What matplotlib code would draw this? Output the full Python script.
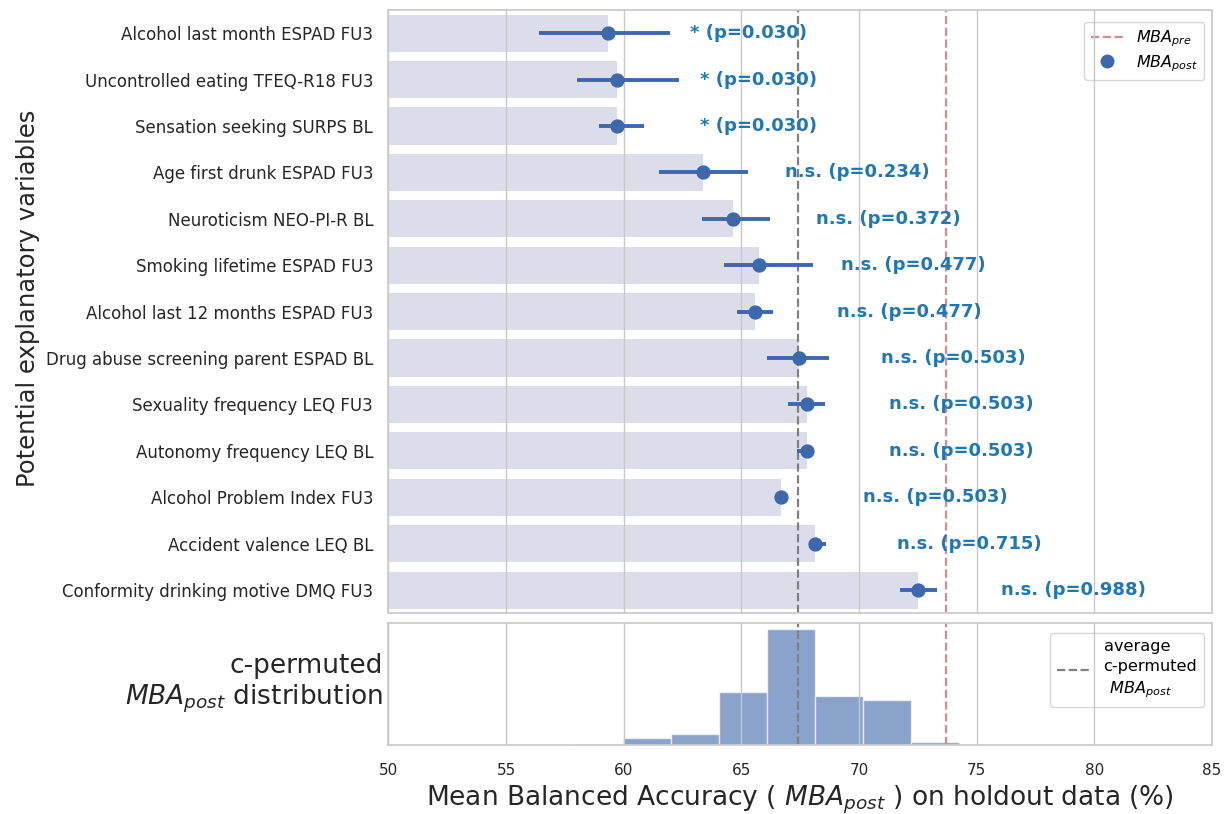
import matplotlib
matplotlib.use("Agg")
import matplotlib.pyplot as plt
from matplotlib.lines import Line2D
import numpy as np

# ---------------- data ----------------
variables = [
    "Alcohol last month ESPAD FU3",
    "Uncontrolled eating TFEQ-R18 FU3",
    "Sensation seeking SURPS BL",
    "Age first drunk ESPAD FU3",
    "Neuroticism NEO-PI-R BL",
    "Smoking lifetime ESPAD FU3",
    "Alcohol last 12 months ESPAD FU3",
    "Drug abuse screening parent ESPAD BL",
    "Sexuality frequency LEQ FU3",
    "Autonomy frequency LEQ BL",
    "Alcohol Problem Index FU3",
    "Accident valence LEQ BL",
    "Conformity drinking motive DMQ FU3",
]
mba_post = [59.32, 59.72, 59.72, 63.36, 64.66, 65.75, 65.58, 67.43, 67.78, 67.78, 66.68, 68.13, 72.52]
ci_low = [56.4, 58.0, 58.94, 61.5, 63.34, 64.26, 64.8, 66.08, 67.0, 67.36, 66.68, 68.0, 71.75]
ci_high = [61.95, 62.35, 60.87, 65.3, 66.2, 68.03, 66.36, 68.73, 68.56, 67.88, 66.68, 68.58, 73.33]
p_labels = ["* (p=0.030)", "* (p=0.030)", "* (p=0.030)", "n.s. (p=0.234)",
            "n.s. (p=0.372)", "n.s. (p=0.477)", "n.s. (p=0.477)", "n.s. (p=0.503)",
            "n.s. (p=0.503)", "n.s. (p=0.503)", "n.s. (p=0.503)", "n.s. (p=0.715)",
            "n.s. (p=0.988)"]
mba_pre = 73.71
perm_mean = 67.41
hist_edges = [57.93, 59.97, 62.0, 64.04, 66.07, 68.11, 70.15, 72.19, 74.23]
hist_counts = [1, 10, 16, 78, 171, 72, 66, 4]
xticks = [50, 55, 60, 65, 70, 75, 80, 85]

# ---------------- style ----------------
plt.rcParams['font.family'] = ['DejaVu Sans']
plt.rcParams['mathtext.fontset'] = 'dejavusans'
spine_col = '#cccccc'
grid_col = '#c8c8c8'
text_dark = '#262626'
point_col = '#3d68ad'
bar_col = '#dbdeea'
red_col = '#d98a8c'
gray_col = '#808080'

fig = plt.figure(figsize=(12.25, 8.14), dpi=100)
ax = fig.add_axes([0.3171, 0.2466, 0.6723, 0.7411])
axh = fig.add_axes([0.3171, 0.0848, 0.6723, 0.1495], sharex=ax)

y = np.arange(len(variables))
ax.barh(y, mba_post, height=0.8, color=bar_col, zorder=1)
err = [np.array(mba_post) - np.array(ci_low), np.array(ci_high) - np.array(mba_post)]
ax.errorbar(mba_post, y, xerr=err, fmt='none', ecolor=point_col, elinewidth=2.8, zorder=3)
ax.plot(mba_post, y, 'o', color=point_col, markersize=9.3, zorder=4, linestyle='none')
for yi, v, lab in zip(y, mba_post, p_labels):
    ax.text(v + 3.5, yi, lab, color='#1f77b4', fontsize=13, fontweight='bold',
            ha='left', va='center', zorder=5)

ax.axvline(perm_mean, color=gray_col, ls='--', lw=1.6, zorder=2)
ax.axvline(mba_pre, color=red_col, ls='--', lw=1.6, zorder=2)

ax.set_ylim(len(variables) - 0.5, -0.5)
ax.set_yticks(y)
ax.set_yticklabels(variables, fontsize=12, color=text_dark)
ax.set_xlim(50, 85)
ax.set_xticks(xticks)
ax.tick_params(axis='x', labelbottom=False, length=0)
ax.tick_params(axis='y', length=0, pad=11)
ax.set_ylabel("Potential explanatory variables", fontsize=17.5, color=text_dark)
ax.yaxis.set_label_coords(-0.423, 0.522)

handles = [Line2D([0], [0], color=red_col, ls='--', lw=1.6),
           Line2D([0], [0], marker='o', color=point_col, ls='none', markersize=9)]
leg = ax.legend(handles, ["$MBA_{pre}$", "$MBA_{post}$"], loc='upper right',
                fontsize=11.5, frameon=True, borderpad=0.4, labelspacing=0.25,
                handlelength=2.0, handletextpad=0.8, borderaxespad=0,
                bbox_to_anchor=(0.9905, 0.980))
leg.get_frame().set_edgecolor('#cccccc')
leg.get_frame().set_linewidth(1.0)
leg.set_zorder(1.2)

# histogram
axh.hist(hist_edges[:-1], bins=hist_edges, weights=hist_counts, color='#4c72b0',
         alpha=0.65, edgecolor='white', linewidth=1.0, zorder=1)
axh.axvline(perm_mean, color=gray_col, ls='--', lw=1.6, zorder=2,
            label="average\nc-permuted\n $MBA_{post}$")
axh.axvline(mba_pre, color=red_col, ls='--', lw=1.6, zorder=2)
axh.set_yticks([])
axh.set_xticks(xticks)
axh.set_xticklabels([str(t) for t in xticks], fontsize=11, color=text_dark)
axh.tick_params(axis='x', length=0, pad=13)
axh.set_xlabel("Mean Balanced Accuracy ( $MBA_{post}$ ) on holdout data (%)",
               fontsize=19, color=text_dark, labelpad=4)
axh.set_ylabel("c-permuted\n$MBA_{post}$ distribution", fontsize=19,
               color=text_dark, rotation=0, ha='right', va='center')
axh.yaxis.set_label_coords(-0.007, 0.5)
leg2 = axh.legend(loc='upper right', fontsize=11.6, frameon=True, borderpad=0.4,
                  handlelength=2.0, handletextpad=0.9,
                  borderaxespad=0, bbox_to_anchor=(0.990, 0.92))
leg2.get_frame().set_edgecolor('#cccccc')
leg2.set_zorder(1.2)
for t in leg2.get_texts():
    t.set_linespacing(1.4)

for a in (ax, axh):
    a.set_axisbelow('line')
    a.grid(axis='x', color=grid_col, lw=1.0)
    a.grid(axis='y', visible=False)
    for s in a.spines.values():
        s.set_color(spine_col)
        s.set_linewidth(1.3)
    a.set_facecolor('white')

fig.savefig("out.png", dpi=100)
